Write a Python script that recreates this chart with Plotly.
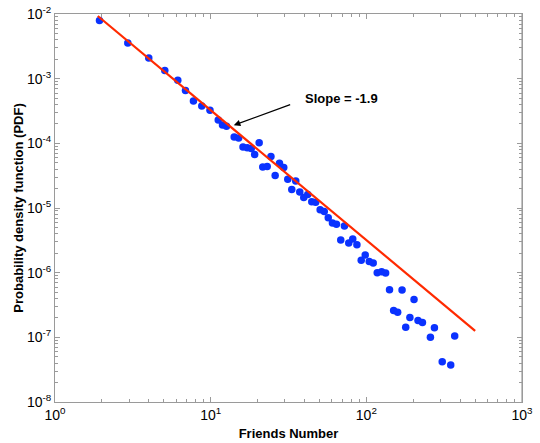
import plotly.graph_objects as go

# Data (log-binned PDF of friends number)
friends = [1.931, 2.935, 4.003, 5.073, 6.147, 6.889, 7.753, 8.768, 9.90, 11.19,
           11.91, 12.64, 14.16, 15.13, 16.13, 17.18, 18.23, 19.17, 20.49, 21.61,
           23.07, 24.39, 25.96, 27.67, 29.48, 31.28, 33.19, 35.21, 37.36, 39.63,
           42.04, 44.61, 47.26, 50.50, 53.65, 56.93, 60.57, 64.27, 68.48, 72.33,
           77.09, 81.78, 87.00, 92.73, 98.37, 104.4, 110.7, 117.5, 125.4, 133.0,
           140.9, 149.7, 158.9, 169.6, 179.1, 190.5, 202.5, 214.8, 229.3, 258.0,
           273.8, 307.3, 348.4, 369.6]
pdf = [7.91e-3, 3.56e-3, 2.08e-3, 1.334e-3, 9.45e-4, 6.55e-4, 4.52e-4, 3.78e-4, 3.25e-4, 2.29e-4,
       1.92e-4, 1.84e-4, 1.256e-4, 1.208e-4, 8.80e-5, 8.55e-5, 8.31e-5, 6.71e-5, 1.021e-4, 4.32e-5,
       4.38e-5, 6.27e-5, 3.18e-5, 4.92e-5, 4.23e-5, 2.79e-5, 1.93e-5, 2.62e-5, 1.773e-5, 1.453e-5,
       1.617e-5, 1.251e-5, 1.229e-5, 9.38e-6, 8.86e-6, 7.08e-6, 5.88e-6, 5.62e-6, 3.20e-6, 5.29e-6,
       2.88e-6, 3.33e-6, 2.71e-6, 1.560e-6, 1.877e-6, 1.489e-6, 1.417e-6, 1.00e-6, 1.029e-6, 9.89e-7,
       5.46e-7, 2.61e-7, 2.45e-7, 5.40e-7, 1.438e-7, 2.03e-7, 3.83e-7, 1.824e-7, 1.699e-7, 1.007e-7,
       1.402e-7, 4.18e-8, 3.74e-8, 1.044e-7]

fit_x = [1.883, 500.0]
fit_y = [9.31e-3, 1.26e-7]

x_tickvals = [1, 10, 100, 1000]
x_ticktext = ["10<sup>0</sup>", "10<sup>1</sup>", "10<sup>2</sup>", "10<sup>3</sup>"]
y_tickvals = [1e-8, 1e-7, 1e-6, 1e-5, 1e-4, 1e-3, 1e-2]
y_ticktext = ["10<sup>-8</sup>", "10<sup>-7</sup>", "10<sup>-6</sup>", "10<sup>-5</sup>",
              "10<sup>-4</sup>", "10<sup>-3</sup>", "10<sup>-2</sup>"]

FONT = "Liberation Sans, Arial, sans-serif"

fig = go.Figure()
fig.add_trace(go.Scatter(x=friends, y=pdf, mode="markers",
                         marker=dict(color="#0A32FF", size=7.5, line=dict(width=0)),
                         showlegend=False))
fig.add_trace(go.Scatter(x=fit_x, y=fit_y, mode="lines",
                         line=dict(color="#FF2A00", width=2.2), showlegend=False))

axis_common = dict(
    type="log", showgrid=False, zeroline=False, automargin=False,
    showline=True, linecolor="#9a9a9a", linewidth=1, mirror="ticks",
    ticks="inside", ticklen=5, tickcolor="#9a9a9a", tickwidth=1,
    tickfont=dict(family=FONT, size=14, color="black"),
    minor=dict(ticks="inside", ticklen=3, tickcolor="#9a9a9a", dtick="D1", showgrid=False),
)

fig.update_xaxes(range=[0, 3], tickvals=x_tickvals, ticktext=x_ticktext,
                 title=dict(text="<b>Friends Number</b>", font=dict(family=FONT, size=13, color="black"),
                            standoff=7),
                 **axis_common)
fig.update_yaxes(range=[-8, -2], tickvals=y_tickvals, ticktext=y_ticktext,
                 title=dict(text="<b>Probability density function (PDF)</b>",
                            font=dict(family=FONT, size=13, color="black"), standoff=0),
                 **axis_common)

# right border, drawn a bit heavier and lighter as in the reference
fig.add_shape(type="line", xref="paper", yref="paper", x0=1, x1=1, y0=0, y1=1,
              line=dict(color="#c4c4c4", width=2), layer="below")

# arrow
fig.add_annotation(x=1.1484, y=-3.7202, xref="x", yref="y", text=" ",
                   showarrow=True, arrowhead=2, arrowsize=1.1, arrowwidth=1.2,
                   arrowcolor="black", ax=59.4, ay=-21.7)
fig.add_annotation(x=1.5915, y=-3.3029, xref="x", yref="y",
                   text="<b>Slope = -1.9</b>", showarrow=False, xanchor="left", yanchor="middle",
                   font=dict(family=FONT, size=13, color="black"))

fig.update_layout(
    width=540, height=443,
    margin=dict(l=54.5, r=18.3, t=13.7, b=41.3, autoexpand=False),
    plot_bgcolor="white", paper_bgcolor="white",
)

fig.write_html("out.html", config={"displayModeBar": False},
               post_script="document.body.style.margin='0';document.body.style.overflow='hidden';")
